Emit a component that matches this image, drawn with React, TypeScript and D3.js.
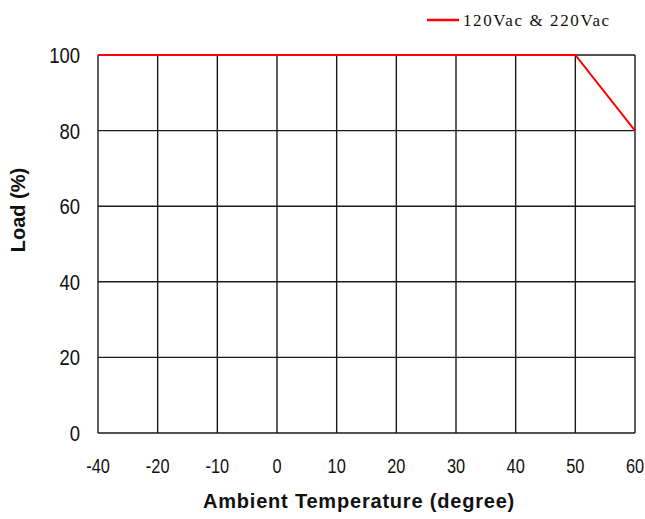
import React, { useRef, useEffect } from "react";
import * as d3 from "d3";

const temps = ["-40", "-20", "-10", "0", "10", "20", "30", "40", "50", "60"];
const loadTicks = [0, 20, 40, 60, 80, 100];
const curveTemps = ["-40", "50", "60"];
const curveLoads = [100, 100, 80];
const seriesName = "120Vac & 220Vac";

const W = 645;
const H = 519;
const sans = "'Liberation Sans', Arial, sans-serif";

export default function App() {
  const svgRef = useRef<SVGSVGElement | null>(null);

  useEffect(() => {
    const svg = d3.select(svgRef.current);
    svg.selectAll("*").remove();

    const x = d3.scalePoint<string>().domain(temps).range([98, 635]);
    const y = d3.scaleLinear().domain([0, 100]).range([433, 55]);

    svg.append("rect").attr("width", W).attr("height", H).attr("fill", "#fff");

    // grid
    const grid = svg.append("g").attr("stroke", "#1a1a1a").attr("stroke-width", 1.4);
    grid
      .selectAll("line.v")
      .data(temps)
      .join("line")
      .attr("x1", (d) => x(d)!)
      .attr("x2", (d) => x(d)!)
      .attr("y1", y(0))
      .attr("y2", y(100));
    grid
      .selectAll("line.h")
      .data(loadTicks)
      .join("line")
      .attr("x1", x(temps[0])!)
      .attr("x2", x(temps[temps.length - 1])!)
      .attr("y1", (d) => y(d))
      .attr("y2", (d) => y(d));

    // tick labels (squeezed horizontally, like a narrow face)
    svg
      .append("g")
      .selectAll("text")
      .data(loadTicks)
      .join("text")
      .attr("transform", (d) => `translate(80,${y(d)}) scale(0.84,1)`)
      .attr("dy", "0.36em")
      .attr("text-anchor", "end")
      .style("font-family", sans)
      .style("font-size", "22px")
      .attr("fill", "#111")
      .text((d) => d);

    svg
      .append("g")
      .selectAll("text")
      .data(temps)
      .join("text")
      .attr("transform", (d) => `translate(${x(d)},466) scale(0.84,1)`)
      .attr("dy", "0.36em")
      .attr("text-anchor", "middle")
      .style("font-family", sans)
      .style("font-size", "19.5px")
      .attr("fill", "#111")
      .text((d) => d);

    // curve
    const line = d3
      .line<number>()
      .x((_, i) => x(curveTemps[i])!)
      .y((d) => y(d));
    svg
      .append("path")
      .datum(curveLoads)
      .attr("fill", "none")
      .attr("stroke", "#ff0000")
      .attr("stroke-width", 2)
      .attr("d", line);

    // axis titles
    svg
      .append("text")
      .attr("x", 359)
      .attr("y", 508)
      .attr("text-anchor", "middle")
      .style("font-family", sans)
      .style("font-size", "20px")
      .style("font-weight", "bold")
      .style("letter-spacing", "0.8px")
      .attr("fill", "#111")
      .text("Ambient Temperature (degree)");

    svg
      .append("text")
      .attr("transform", "translate(25,210) rotate(-90)")
      .attr("text-anchor", "middle")
      .style("font-family", sans)
      .style("font-size", "20px")
      .style("font-weight", "bold")
      .attr("fill", "#111")
      .text("Load (%)");

    // legend
    const legend = svg.append("g").attr("transform", "translate(427,20)");
    legend
      .append("line")
      .attr("x1", 0)
      .attr("x2", 32)
      .attr("stroke", "#ff0000")
      .attr("stroke-width", 2.5);
    legend
      .append("text")
      .attr("x", 36)
      .attr("dy", "0.35em")
      .style("font-family", "'Liberation Serif', 'Times New Roman', serif")
      .style("font-size", "17px")
      .style("letter-spacing", "1.6px")
      .attr("fill", "#111")
      .text(seriesName);
  }, []);

  return (
    <svg
      ref={svgRef}
      width={W}
      height={H}
      style={{ position: "absolute", left: 0, top: 0 }}
    ></svg>
  );
}
